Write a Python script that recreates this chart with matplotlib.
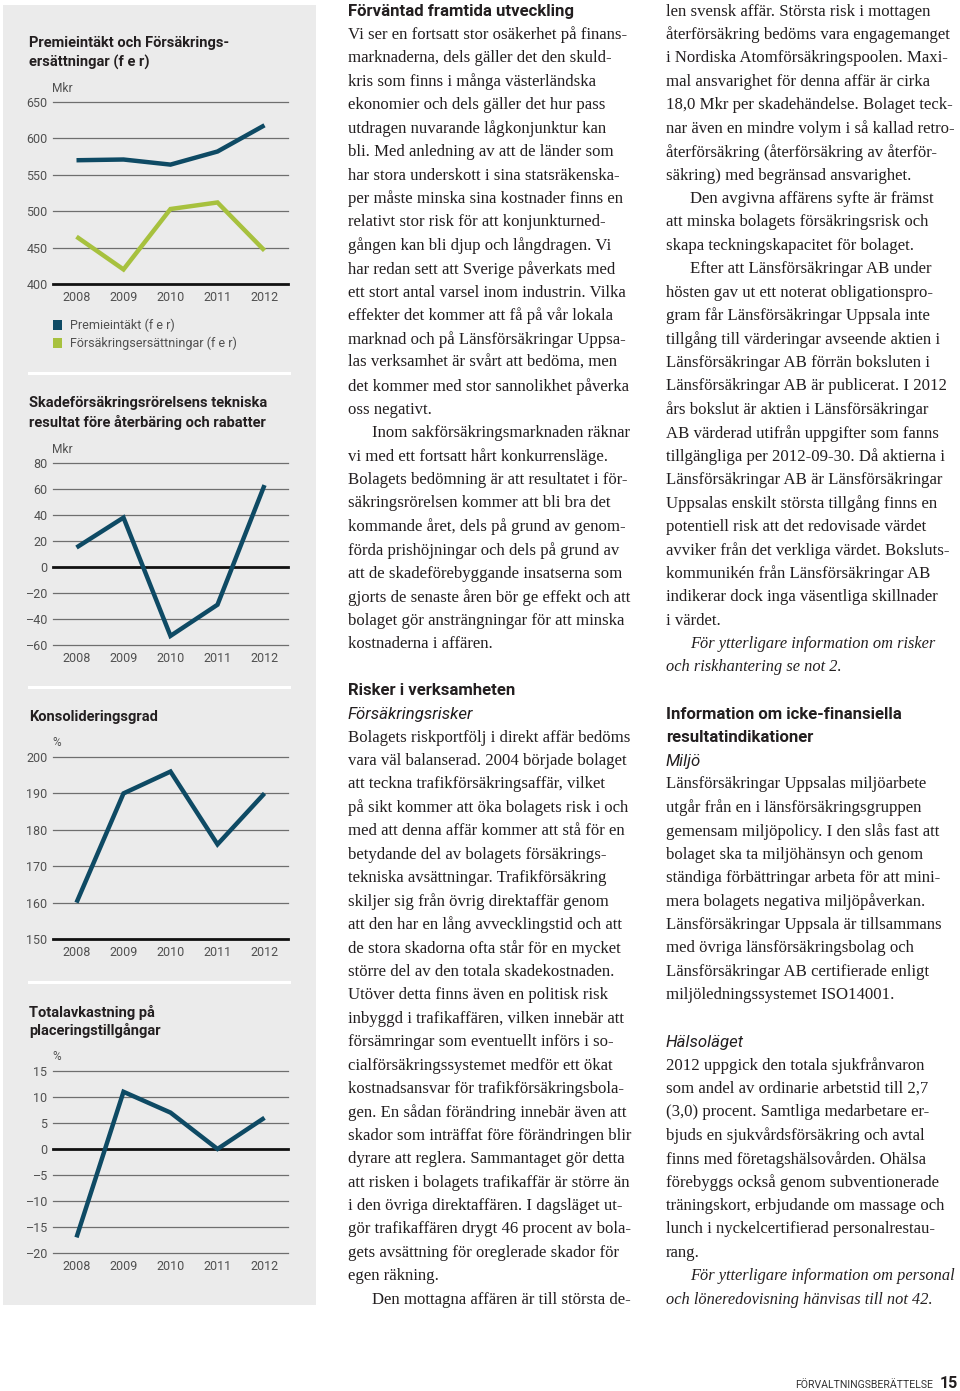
import matplotlib
matplotlib.use("Agg")
import matplotlib.pyplot as plt
from matplotlib.patches import Rectangle
from matplotlib.lines import Line2D

# --- Data ---
YEARS = [2008, 2009, 2010, 2011, 2012]
PREMIE = [570, 571, 564, 582, 618]
ERSATTNING = [465, 420, 503, 512, 446]
TEKNISKT = [15, 38, -53, -29, 63]
KONSOLIDERING = [160, 190, 196, 176, 190]
TOTALAVK = [-17, 11, 7, 0, 6]

TICKS_1 = [400, 450, 500, 550, 600, 650]
TICKS_2 = [-60, -40, -20, 0, 20, 40, 60, 80]
TICKS_3 = [150, 160, 170, 180, 190, 200]
TICKS_4 = [-20, -15, -10, -5, 0, 5, 10, 15]

BLUE = '#0e4a64'
GREEN = '#a7c13e'
INK = '#231f20'
TICK_COL = '#505050'

W, H = 960, 1391
plt.rcParams['font.family'] = ['Roboto', 'DejaVu Sans']
fig = plt.figure(figsize=(W / 100, H / 100), dpi=100)
renderer = fig.canvas.get_renderer()


def fx(x):
    return x / W


def fy(y):
    return 1 - y / H


def fit_size(s, target, **kw):
    # fontsize so that string s is target px wide
    t = fig.text(0, 0, s, fontsize=12, **kw)
    w = t.get_window_extent(renderer).width
    t.remove()
    return 12 * target / w


SANS_BOLD = fit_size('Förväntad framtida utveckling', 225, fontweight='bold')
TITLE_SIZE = fit_size('Skadeförsäkringsrörelsens tekniska', 238, fontweight='bold')
SMALL = fit_size('2008', 28)
SERIF = min(fit_size('Vi ser en fortsatt stor osäkerhet på finans-', 288,
                     family='Liberation Serif'),
            fit_size('18,0 Mkr per skadehändelse. Bolaget teck-', 288,
                     family='Liberation Serif'),
            fit_size('nar även en mindre volym i så kallad retro-', 288,
                     family='Liberation Serif'))
SERIF_IT = fit_size('För ytterligare information om personal', 265,
                    family='Liberation Serif', fontstyle='italic')

# grey side panel
fig.add_artist(Rectangle((fx(3), fy(1305)), 313 / W, 1300 / H,
                         transform=fig.transFigure, facecolor='#ebebeb',
                         edgecolor='none', zorder=0))
for ysep in [373, 687, 982]:
    fig.add_artist(Line2D([fx(29), fx(289)], [fy(ysep), fy(ysep)],
                          color='white', lw=2.2, zorder=1))


def draw_chart(y_top, y_bot, ticks, series, base, title, title_y, unit):
    ax = fig.add_axes([fx(53), fy(y_bot), (288 - 53) / W, (y_bot - y_top) / H])
    ax.patch.set_alpha(0)
    for s in ax.spines.values():
        s.set_visible(False)
    ax.set_xlim(2007.5, 2012.5)
    ax.set_ylim(min(ticks), max(ticks))
    for t in ticks:
        if t == base:
            ax.axhline(t, color='#111111', lw=2.0, clip_on=False, zorder=2)
        else:
            ax.axhline(t, color='#6e6e6e', lw=0.9, clip_on=False, zorder=1)
    for vals, col in series:
        ax.plot(YEARS, vals, color=col, lw=3.2, solid_joinstyle='miter',
                solid_capstyle='butt', clip_on=False, zorder=3)
    ax.set_yticks(ticks)
    ax.set_yticklabels([str(t).replace('-', '–') for t in ticks])
    ax.set_xticks(YEARS)
    ax.set_xticklabels([str(y) for y in YEARS])
    ax.tick_params(axis='y', length=0, pad=4, labelsize=SMALL, labelcolor=TICK_COL)
    ax.tick_params(axis='x', length=0, pad=5, labelsize=SMALL, labelcolor=TICK_COL)
    for i, line in enumerate(title):
        fig.text(fx(29), fy(title_y + i * 19), line, fontsize=TITLE_SIZE,
                 fontweight='bold', color=INK, va='center')
    fig.text(fx(52), fy(y_top - 14), unit, fontsize=SMALL * 0.95,
             color=TICK_COL, va='center')
    return ax


draw_chart(102, 284, TICKS_1, [(PREMIE, BLUE), (ERSATTNING, GREEN)], 400,
           ['Premieintäkt och Försäkrings-', 'ersättningar (f e r)'], 43, 'Mkr')
draw_chart(463, 645, TICKS_2, [(TEKNISKT, BLUE)], 0,
           ['Skadeförsäkringsrörelsens tekniska',
            'resultat före återbäring och rabatter'], 403, 'Mkr')
draw_chart(757, 939, TICKS_3, [(KONSOLIDERING, BLUE)], 150,
           ['Konsolideringsgrad'], 717, '%')
draw_chart(1071, 1253, TICKS_4, [(TOTALAVK, BLUE)], 0,
           ['Totalavkastning på', 'placeringstillgångar'], 1012, '%')

# legend of first chart
for yl, col, lab in [(325, BLUE, 'Premieintäkt (f e r)'),
                     (343, GREEN, 'Försäkringsersättningar (f e r)')]:
    fig.add_artist(Rectangle((fx(53), fy(yl + 4.5)), 8.5 / W, 9 / H,
                             transform=fig.transFigure, facecolor=col,
                             edgecolor='none'))
    fig.text(fx(70), fy(yl), lab, fontsize=SMALL, color=TICK_COL, va='center')

# --- Text columns ---
# H heading, S sans italic, P body, I body indented, E serif italic, F italic indented
COL1 = [
    ('H', 'Förväntad framtida utveckling'),
    ('P', 'Vi ser en fortsatt stor osäkerhet på finans-'),
    ('P', 'marknaderna, dels gäller det den skuld-'),
    ('P', 'kris som finns i många västerländska'),
    ('P', 'ekonomier och dels gäller det hur pass'),
    ('P', 'utdragen nuvarande lågkonjunktur kan'),
    ('P', 'bli. Med anledning av att de länder som'),
    ('P', 'har stora underskott i sina statsräkenska-'),
    ('P', 'per måste minska sina kostnader finns en'),
    ('P', 'relativt stor risk för att konjunkturned-'),
    ('P', 'gången kan bli djup och långdragen. Vi'),
    ('P', 'har redan sett att Sverige påverkats med'),
    ('P', 'ett stort antal varsel inom industrin. Vilka'),
    ('P', 'effekter det kommer att få på vår lokala'),
    ('P', 'marknad och på Länsförsäkringar Uppsa-'),
    ('P', 'las verksamhet är svårt att bedöma, men'),
    ('P', 'det kommer med stor sannolikhet påverka'),
    ('P', 'oss negativt.'),
    ('I', 'Inom sakförsäkringsmarknaden räknar'),
    ('P', 'vi med ett fortsatt hårt konkurrensläge.'),
    ('P', 'Bolagets bedömning är att resultatet i för-'),
    ('P', 'säkringsrörelsen kommer att bli bra det'),
    ('P', 'kommande året, dels på grund av genom-'),
    ('P', 'förda prishöjningar och dels på grund av'),
    ('P', 'att de skadeförebyggande insatserna som'),
    ('P', 'gjorts de senaste åren bör ge effekt och att'),
    ('P', 'bolaget gör ansträngningar för att minska'),
    ('P', 'kostnaderna i affären.'),
    ('', ''),
    ('H', 'Risker i verksamheten'),
    ('S', 'Försäkringsrisker'),
    ('P', 'Bolagets riskportfölj i direkt affär bedöms'),
    ('P', 'vara väl balanserad. 2004 började bolaget'),
    ('P', 'att teckna trafikförsäkringsaffär, vilket'),
    ('P', 'på sikt kommer att öka bolagets risk i och'),
    ('P', 'med att denna affär kommer att stå för en'),
    ('P', 'betydande del av bolagets försäkrings-'),
    ('P', 'tekniska avsättningar. Trafikförsäkring'),
    ('P', 'skiljer sig från övrig direktaffär genom'),
    ('P', 'att den har en lång avvecklingstid och att'),
    ('P', 'de stora skadorna ofta står för en mycket'),
    ('P', 'större del av den totala skadekostnaden.'),
    ('P', 'Utöver detta finns även en politisk risk'),
    ('P', 'inbyggd i trafikaffären, vilken innebär att'),
    ('P', 'försämringar som eventuellt införs i so-'),
    ('P', 'cialförsäkringssystemet medför ett ökat'),
    ('P', 'kostnadsansvar för trafikförsäkringsbola-'),
    ('P', 'gen. En sådan förändring innebär även att'),
    ('P', 'skador som inträffat före förändringen blir'),
    ('P', 'dyrare att reglera. Sammantaget gör detta'),
    ('P', 'att risken i bolagets trafikaffär är större än'),
    ('P', 'i den övriga direktaffären. I dagsläget ut-'),
    ('P', 'gör trafikaffären drygt 46 procent av bola-'),
    ('P', 'gets avsättning för oreglerade skador för'),
    ('P', 'egen räkning.'),
    ('I', 'Den mottagna affären är till största de-'),
]

COL2 = [
    ('P', 'len svensk affär. Största risk i mottagen'),
    ('P', 'återförsäkring bedöms vara engagemanget'),
    ('P', 'i Nordiska Atomförsäkringspoolen. Maxi-'),
    ('P', 'mal ansvarighet för denna affär är cirka'),
    ('P', '18,0 Mkr per skadehändelse. Bolaget teck-'),
    ('P', 'nar även en mindre volym i så kallad retro-'),
    ('P', 'återförsäkring (återförsäkring av återför-'),
    ('P', 'säkring) med begränsad ansvarighet.'),
    ('I', 'Den avgivna affärens syfte är främst'),
    ('P', 'att minska bolagets försäkringsrisk och'),
    ('P', 'skapa teckningskapacitet för bolaget.'),
    ('I', 'Efter att Länsförsäkringar AB under'),
    ('P', 'hösten gav ut ett noterat obligationspro-'),
    ('P', 'gram får Länsförsäkringar Uppsala inte'),
    ('P', 'tillgång till värderingar avseende aktien i'),
    ('P', 'Länsförsäkringar AB förrän boksluten i'),
    ('P', 'Länsförsäkringar AB är publicerat. I 2012'),
    ('P', 'års bokslut är aktien i Länsförsäkringar'),
    ('P', 'AB värderad utifrån uppgifter som fanns'),
    ('P', 'tillgängliga per 2012-09-30. Då aktierna i'),
    ('P', 'Länsförsäkringar AB är Länsförsäkringar'),
    ('P', 'Uppsalas enskilt största tillgång finns en'),
    ('P', 'potentiell risk att det redovisade värdet'),
    ('P', 'avviker från det verkliga värdet. Boksluts-'),
    ('P', 'kommunikén från Länsförsäkringar AB'),
    ('P', 'indikerar dock inga väsentliga skillnader'),
    ('P', 'i värdet.'),
    ('F', 'För ytterligare information om risker'),
    ('E', 'och riskhantering se not 2.'),
    ('', ''),
    ('H', 'Information om icke-finansiella'),
    ('H', 'resultatindikationer'),
    ('S', 'Miljö'),
    ('P', 'Länsförsäkringar Uppsalas miljöarbete'),
    ('P', 'utgår från en i länsförsäkringsgruppen'),
    ('P', 'gemensam miljöpolicy. I den slås fast att'),
    ('P', 'bolaget ska ta miljöhänsyn och genom'),
    ('P', 'ständiga förbättringar arbeta för att mini-'),
    ('P', 'mera bolagets negativa miljöpåverkan.'),
    ('P', 'Länsförsäkringar Uppsala är tillsammans'),
    ('P', 'med övriga länsförsäkringsbolag och'),
    ('P', 'Länsförsäkringar AB certifierade enligt'),
    ('P', 'miljöledningssystemet ISO14001.'),
    ('', ''),
    ('S', 'Hälsoläget'),
    ('P', '2012 uppgick den totala sjukfrånvaron'),
    ('P', 'som andel av ordinarie arbetstid till 2,7'),
    ('P', '(3,0) procent. Samtliga medarbetare er-'),
    ('P', 'bjuds en sjukvårdsförsäkring och avtal'),
    ('P', 'finns med företagshälsovården. Ohälsa'),
    ('P', 'förebyggs också genom subventionerade'),
    ('P', 'träningskort, erbjudande om massage och'),
    ('P', 'lunch i nyckelcertifierad personalrestau-'),
    ('P', 'rang.'),
    ('F', 'För ytterligare information om personal'),
    ('E', 'och löneredovisning hänvisas till not 42.'),
]

LINE_H = 23.42
FIRST_Y = 11.6


def draw_column(lines, x0):
    for i, (kind, txt) in enumerate(lines):
        if not kind:
            continue
        y = fy(FIRST_Y + i * LINE_H)
        x = x0 + (24 if kind in ('I', 'F') else 0)
        if kind == 'H':
            fig.text(fx(x), y, txt, fontsize=SANS_BOLD, fontweight='bold',
                     color=INK, va='center')
        elif kind == 'S':
            fig.text(fx(x), y, txt, fontsize=SANS_BOLD, fontstyle='italic',
                     color=INK, va='center')
        elif kind in ('E', 'F'):
            fig.text(fx(x), y, txt, fontsize=SERIF_IT, family='Liberation Serif',
                     fontstyle='italic', color=INK, va='center')
        else:
            fig.text(fx(x), y, txt, fontsize=SERIF, family='Liberation Serif',
                     color=INK, va='center')


draw_column(COL1, 348)
draw_column(COL2, 666)

# footer
fig.text(fx(933), fy(1385), 'FÖRVALTNINGSBERÄTTELSE', fontsize=7.6,
         color='#333333', ha='right', va='center')
fig.text(fx(940), fy(1384), '15', fontsize=11.5, fontweight='bold',
         color=INK, va='center')

fig.savefig('out.png', dpi=100, facecolor='white')
